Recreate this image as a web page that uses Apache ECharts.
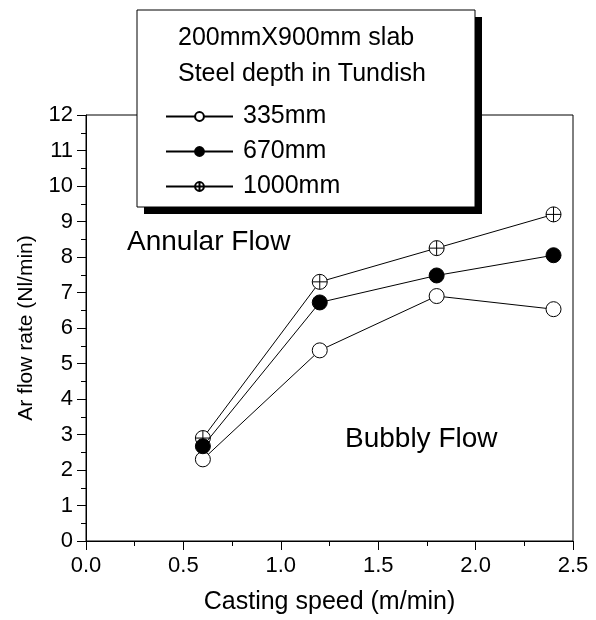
<!DOCTYPE html>
<html><head><meta charset="utf-8">
<script src="https://cdn.jsdelivr.net/npm/echarts@6/dist/echarts.min.js"></script>
<style>html,body{margin:0;padding:0;background:#fff}#c{width:596px;height:620px}</style>
</head><body><div id="c"></div>
<script>
var speeds = [0.6, 1.2, 1.8, 2.4];
var depth335 = [2.3, 5.37, 6.9, 6.53];
var depth670 = [2.67, 6.72, 7.48, 8.05];
var depth1000 = [2.9, 7.3, 8.25, 9.2];
var seriesNames = ['335mm', '670mm', '1000mm'];
var titleLines = ['200mmX900mm slab', 'Steel depth in Tundish'];
var annotations = ['Annular Flow', 'Bubbly Flow'];
var xLabel = 'Casting speed (m/min)';
var yLabel = 'Ar flow rate (Nl/min)';

var FONT = '"Liberation Sans", Arial, sans-serif';
var crossPath = 'path://M0,-10A10,10 0 1,1 0,10A10,10 0 1,1 0,-10Z M-10,0L10,0 M0,-10L0,10';

function pairs(vals){ return speeds.map(function(s,i){return [s, vals[i]];}); }

var chart = echarts.init(document.getElementById('c'));
chart.setOption({
  animation: false,
  grid: {left: 86, right: 23, top: 115, bottom: 79, show: true, borderColor: '#000', borderWidth: 1, backgroundColor: 'transparent'},
  xAxis: {
    type: 'value', min: 0, max: 2.5, interval: 0.5,
    name: xLabel, nameLocation: 'middle', nameGap: 49,
    nameTextStyle: {fontFamily: FONT, fontSize: 25, color: '#000'},
    axisLine: {show: true, onZero: false, lineStyle: {color: '#000', width: 1}},
    axisTick: {show: true, inside: false, length: 9, lineStyle: {color: '#000'}},
    minorTick: {show: true, splitNumber: 2, length: 5, lineStyle: {color: '#000'}},
    splitLine: {show: false},
    axisLabel: {fontFamily: FONT, fontSize: 22, color: '#000', margin: 14, formatter: function(v){return v.toFixed(1);}}
  },
  yAxis: {
    type: 'value', min: 0, max: 12, interval: 1,
    name: yLabel, nameLocation: 'middle', nameGap: 49, nameRotate: 90,
    nameTextStyle: {fontFamily: FONT, fontSize: 21, color: '#000'},
    axisLine: {show: true, onZero: false, lineStyle: {color: '#000', width: 1}},
    axisTick: {show: true, inside: false, length: 9, lineStyle: {color: '#000'}},
    minorTick: {show: true, splitNumber: 2, length: 5, lineStyle: {color: '#000'}},
    splitLine: {show: false},
    axisLabel: {fontFamily: FONT, fontSize: 22, color: '#000', margin: 13}
  },
  legend: {
    orient: 'vertical', left: 160, top: 99, itemGap: 10,
    itemWidth: 67, itemHeight: 11, z: 20,
    data: seriesNames,
    textStyle: {fontFamily: FONT, fontSize: 25, color: '#000', padding: [0,0,0,5]}
  },
  graphic: [
    {type: 'rect', z: 9, shape: {x: 144, y: 17, width: 338, height: 197}, style: {fill: '#000'}},
    {type: 'rect', z: 10, shape: {x: 137, y: 10, width: 338, height: 197},
     style: {fill: '#fff', stroke: '#000', lineWidth: 1}},
    {type: 'text', z: 11, left: 178, top: 26, style: {text: titleLines[0], font: '25px ' + FONT, fill: '#000'}},
    {type: 'text', z: 11, left: 178, top: 62, style: {text: titleLines[1], font: '25px ' + FONT, fill: '#000'}},
    {type: 'text', z: 11, left: 127, top: 228, style: {text: annotations[0], font: '28px ' + FONT, fill: '#000'}},
    {type: 'text', z: 11, left: 345, top: 425, style: {text: annotations[1], font: '28px ' + FONT, fill: '#000'}}
  ],
  series: [
    {name: seriesNames[0], type: 'line', data: pairs(depth335), z: 2,
     symbol: 'circle', symbolSize: 15,
     lineStyle: {color: '#000', width: 1},
     itemStyle: {color: '#fff', borderColor: '#000', borderWidth: 1}},
    {name: seriesNames[2], type: 'line', data: pairs(depth1000), z: 3,
     symbol: crossPath, symbolSize: 15,
     lineStyle: {color: '#000', width: 1},
     itemStyle: {color: '#fff', borderColor: '#000', borderWidth: 1}},
    {name: seriesNames[1], type: 'line', data: pairs(depth670), z: 4,
     symbol: 'circle', symbolSize: 15,
     lineStyle: {color: '#000', width: 1},
     itemStyle: {color: '#000', borderColor: '#000', borderWidth: 1}}
  ]
});
</script></body></html>
